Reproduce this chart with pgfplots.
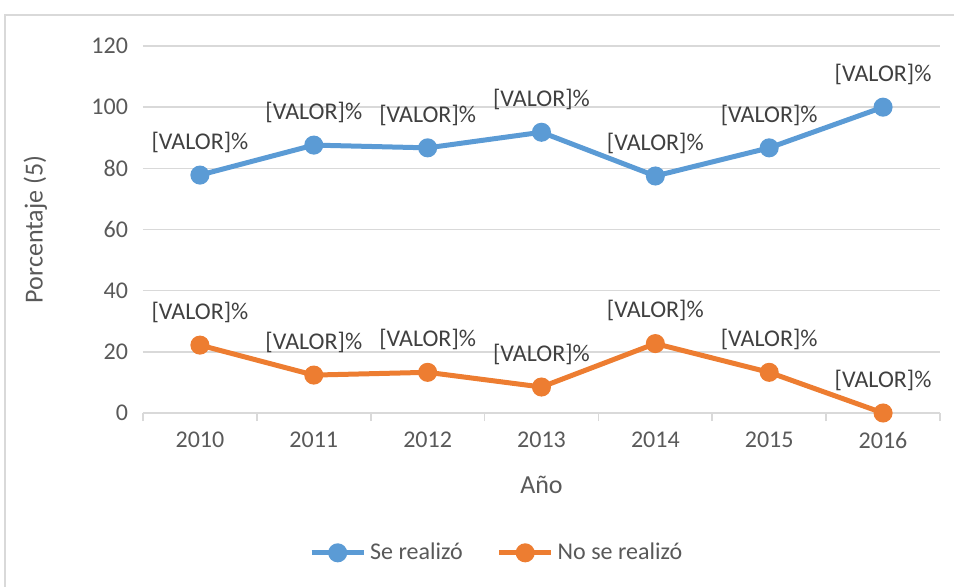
\documentclass[border=0pt]{standalone}
\usepackage{pgfplots}
\pgfplotsset{compat=1.18}
\usepackage{fontspec}
\setmainfont{Carlito}
\definecolor{serieA}{HTML}{5B9BD5}
\definecolor{serieB}{HTML}{ED7D31}
\definecolor{gridc}{HTML}{D9D9D9}
\definecolor{txt}{HTML}{595959}
\definecolor{lbl}{HTML}{404040}
\begin{document}
\begin{tikzpicture}
\path[use as bounding box] (-71.5pt,-86.5pt) rectangle (405.5pt,206.5pt);
\draw[gridc, line width=0.8pt] (-69pt,-95pt) rectangle (412pt,199pt);
\begin{axis}[
    at={(0pt,0pt)}, anchor=south west,
    scale only axis,
    width=398.5pt, height=183.5pt,
    xmin=-0.5, xmax=6.5,
    ymin=0, ymax=120,
    ytick={0,20,...,120},
    xtick={0,...,6},
    xticklabels={2010,2011,2012,2013,2014,2015,2016},
    minor xtick={-0.5,0.5,...,6.5},
    major tick length=0pt,
    minor tick length=4pt,
    tick align=outside,
    every minor tick/.style={gridc, line width=0.8pt},
    axis x line*=bottom,
    axis y line*=left,
    x axis line style={gridc, line width=0.8pt, -},
    y axis line style={draw=none},
    ymajorgrids,
    grid style={gridc, line width=0.8pt},
    font=\fontsize{12}{14}\selectfont,
    tick label style={txt, font=\fontsize{12}{14}\selectfont},
    /pgf/number format/assume math mode=true,
    yticklabel style={xshift=-4pt},
    xticklabel style={yshift=-6pt},
    ylabel={Porcentaje (5)},
    xlabel={Año},
    label style={txt, font=\fontsize{13}{15}\selectfont},
    ylabel style={at={(axis description cs:-0.135,0.5)}, anchor=center},
    xlabel style={at={(axis description cs:0.5,-0.195)}, anchor=center},
    nodes near coords={{[}VALOR{]}\%},
    every node near coord/.append style={lbl, anchor=south, inner sep=0pt, yshift=10pt, font=\fontsize{12}{14}\selectfont},
    legend style={draw=none, fill=none, at={(axis description cs:0.445,-0.381)}, anchor=center,
        legend columns=2, font=\fontsize{12}{14}\selectfont, text=txt,
        /tikz/every even column/.append style={column sep=15pt}},
    legend cell align=left,
    legend image code/.code={\draw[mark repeat=2,mark phase=2,#1] plot coordinates {(0pt,0pt) (13pt,0pt) (26pt,0pt)};},
    clip=false,
]
\addplot[serieA, line width=2.5pt, mark=*, mark size=3.5pt] coordinates {
    (0,77.8) (1,87.6) (2,86.7) (3,91.8) (4,77.5) (5,86.7) (6,100)};
\addlegendentry{Se realizó}
\addplot[serieB, line width=2.5pt, mark=*, mark size=3.5pt] coordinates {
    (0,22.2) (1,12.4) (2,13.3) (3,8.5) (4,22.7) (5,13.3) (6,0)};
\addlegendentry{No se realizó}
\end{axis}
\end{tikzpicture}
\end{document}
